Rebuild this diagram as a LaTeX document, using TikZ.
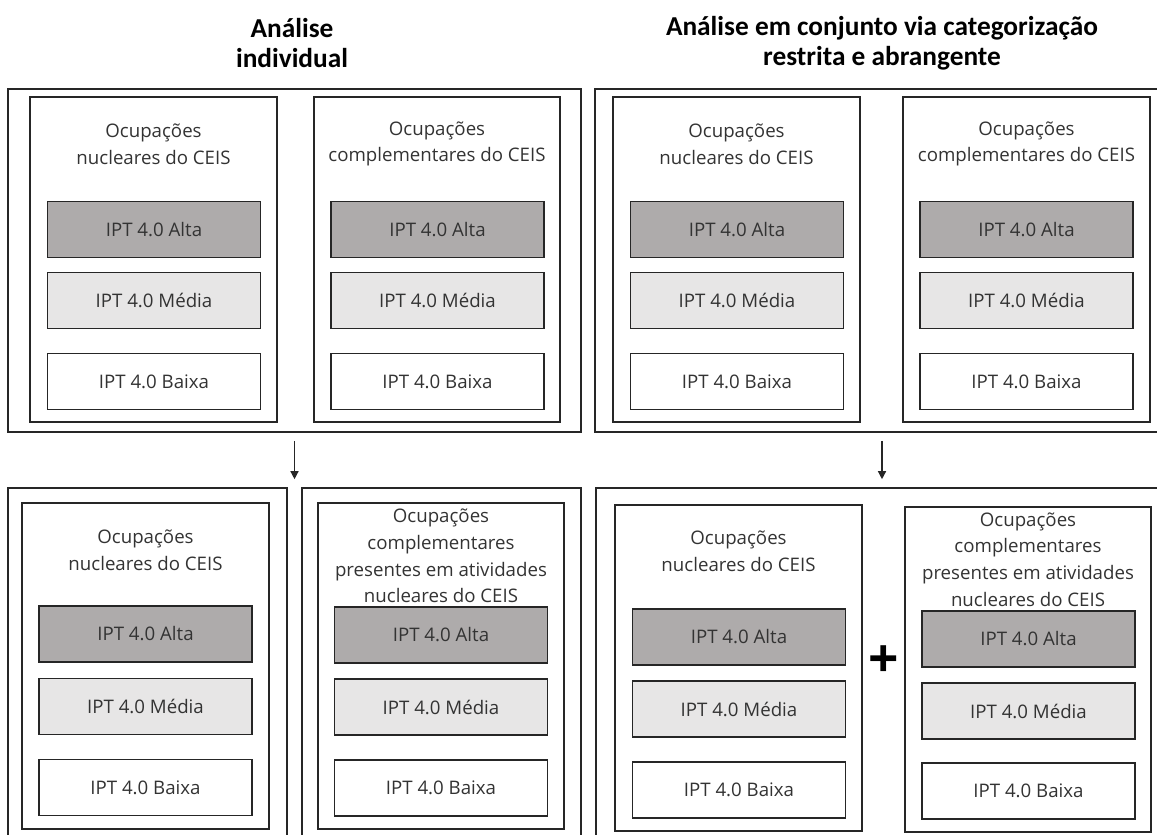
\documentclass[tikz,border=0pt]{standalone}
\usepackage{fontspec}
\setmainfont{Open Sans}
\newfontfamily\titlefont{Carlito}
\usetikzlibrary{fit,arrows.meta}
\definecolor{altagray}{HTML}{AEABAB}
\definecolor{mediagray}{HTML}{E7E6E6}
\definecolor{linegray}{HTML}{262626}
\begin{document}
\begin{tikzpicture}[x=0.75pt,y=-0.75pt,
    frame/.style={draw=linegray, line width=1.2pt, inner sep=0pt},
    level/.style={frame, minimum width=160pt, minimum height=42pt, text=black!80, font=\fontsize{14}{17}\selectfont},
    alta/.style={level, fill=altagray},
    media/.style={level, fill=mediagray},
    baixa/.style={level, fill=white},
    heading/.style={align=center, text=black!80, inner sep=0pt, font=\fontsize{14}{20}\selectfont},
    title/.style={align=center, inner sep=0pt, font=\titlefont\bfseries\fontsize{20.5}{22.5}\selectfont},
    flow/.style={draw=linegray, line width=1pt, -{Triangle[width=6pt,length=6pt]}, shorten <=6pt, shorten >=6pt}]
    \useasboundingbox (0,0) rectangle (1157,835);
    \clip (0,0) rectangle (1157,835);

    \node[title] (tindiv) at (292,43) {Análise\\individual};
    \node[title] (tjoint) at (882,43) {Análise em conjunto via categorização\\restrita e abrangente};

    \node[frame, fit={(8,89) (581,432)}] (indiv) {};
    \node[frame, fit={(595,89) (1169,432)}] (joint) {};
    \node[frame, fit={(30,97) (277,422)}] (indivnuc) {};
    \node[frame, fit={(314,97) (560,422)}] (indivcomp) {};
    \node[frame, fit={(613,97) (860,422)}] (jointnuc) {};
    \node[frame, fit={(903,97) (1150,422)}] (jointcomp) {};

    \node[heading] (hindivnuc) at (153.5,144) {Ocupações\\nucleares do CEIS};
    \node[heading] (hindivcomp) at (437,144) {Ocupações\\complementares do CEIS};
    \node[heading] (hjointnuc) at (736.5,144) {Ocupações\\nucleares do CEIS};
    \node[heading] (hjointcomp) at (1026.5,144) {Ocupações\\complementares do CEIS};

    \node[alta] (altaA) at (154,229.5) {IPT 4.0 Alta};
    \node[media] (mediaA) at (154,300.5) {IPT 4.0 Média};
    \node[baixa] (baixaA) at (154,381.5) {IPT 4.0 Baixa};
    \node[alta] (altaB) at (437.5,229.5) {IPT 4.0 Alta};
    \node[media] (mediaB) at (437.5,300.5) {IPT 4.0 Média};
    \node[baixa] (baixaB) at (437.5,381.5) {IPT 4.0 Baixa};
    \node[alta] (altaC) at (737,229.5) {IPT 4.0 Alta};
    \node[media] (mediaC) at (737,300.5) {IPT 4.0 Média};
    \node[baixa] (baixaC) at (737,381.5) {IPT 4.0 Baixa};
    \node[alta] (altaD) at (1026.5,229.5) {IPT 4.0 Alta};
    \node[media] (mediaD) at (1026.5,300.5) {IPT 4.0 Média};
    \node[baixa] (baixaD) at (1026.5,381.5) {IPT 4.0 Baixa};

    \node[frame, fit={(8,488) (287,900)}] (resnuc) {};
    \node[frame, fit={(302,488) (581,900)}] (rescomp) {};
    \node[frame, fit={(596,488) (1169,900)}] (ressum) {};
    \node[frame, fit={(22,503) (269,829)}] (resnucin) {};
    \node[frame, fit={(318,503) (564,829)}] (rescompin) {};
    \node[frame, fit={(615,505) (862,831)}] (sumnuc) {};
    \node[frame, fit={(905,507) (1151,832)}] (sumcomp) {};

    \node[heading] (hresnuc) at (145.5,550) {Ocupações\\nucleares do CEIS};
    \node[heading] (hrescomp) at (441,556) {Ocupações\\complementares\\presentes em atividades\\nucleares do CEIS};
    \node[heading] (hsumnuc) at (738.5,551.5) {Ocupações\\nucleares do CEIS};
    \node[heading] (hsumcomp) at (1028,559.5) {Ocupações\\complementares\\presentes em atividades\\nucleares do CEIS};

    \node[alta] (altaE) at (145.5,634) {IPT 4.0 Alta};
    \node[media] (mediaE) at (145.5,706.5) {IPT 4.0 Média};
    \node[baixa] (baixaE) at (145.5,787.5) {IPT 4.0 Baixa};
    \node[alta] (altaF) at (441,635) {IPT 4.0 Alta};
    \node[media] (mediaF) at (441,707) {IPT 4.0 Média};
    \node[baixa] (baixaF) at (441,788) {IPT 4.0 Baixa};
    \node[alta] (altaG) at (739,637) {IPT 4.0 Alta};
    \node[media] (mediaG) at (739,709) {IPT 4.0 Média};
    \node[baixa] (baixaG) at (739,790) {IPT 4.0 Baixa};
    \node[alta] (altaH) at (1028.5,639) {IPT 4.0 Alta};
    \node[media] (mediaH) at (1028.5,711) {IPT 4.0 Média};
    \node[baixa] (baixaH) at (1028.5,791) {IPT 4.0 Baixa};

    \node[inner sep=0pt, font=\bfseries\fontsize{40}{40}\selectfont] (plus) at (884,662) {+};

    \draw[flow] (indiv.south) -- (indiv.south |- resnuc.north);
    \draw[flow] (joint.south) -- (joint.south |- ressum.north);

\end{tikzpicture}
\end{document}
